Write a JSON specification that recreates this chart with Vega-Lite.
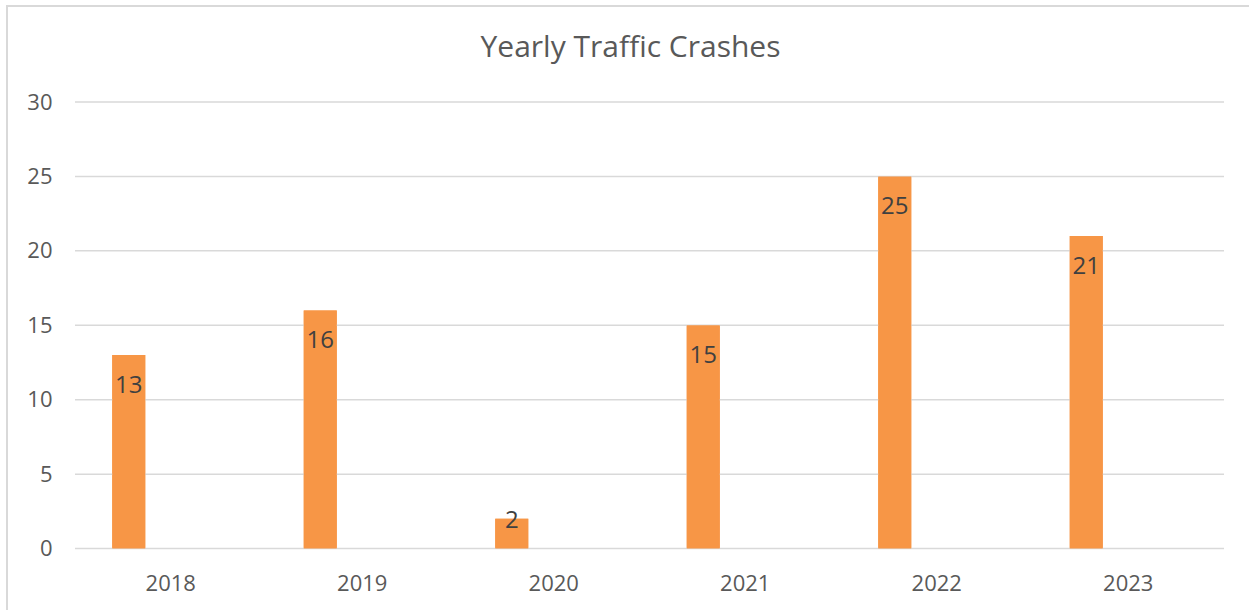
{
  "$schema": "https://vega.github.io/schema/vega-lite/v6.json",
  "autosize": "none",
  "padding": {"left": 7, "top": 6, "right": 0, "bottom": 0},
  "width": 1285,
  "height": 617,
  "background": "white",
  "config": {
    "view": {"stroke": "#D9D9D9", "strokeWidth": 2},
    "font": "Open Sans"
  },
  "title": {
    "text": "Yearly Traffic Crashes",
    "font": "Open Sans",
    "fontSize": 30,
    "fontWeight": "normal",
    "color": "#595959",
    "anchor": "middle",
    "frame": "group",
    "baseline": "alphabetic",
    "offset": -50,
    "dy": 31,
    "dx": -19
  },
  "datasets": {
    "crashes": [
      {"year": "2018", "crashes": 13},
      {"year": "2019", "crashes": 16},
      {"year": "2020", "crashes": 2},
      {"year": "2021", "crashes": 15},
      {"year": "2022", "crashes": 25},
      {"year": "2023", "crashes": 21}
    ],
    "grid": [
      {"value": 0}, {"value": 5}, {"value": 10}, {"value": 15},
      {"value": 20}, {"value": 25}, {"value": 30}
    ]
  },
  "layer": [
    {
      "data": {"name": "crashes"},
      "mark": {"type": "bar", "color": "#F79646", "width": 33, "xOffset": -42},
      "encoding": {
        "x": {
          "field": "year",
          "type": "nominal",
          "sort": null,
          "scale": {"domain": ["2018", "2019", "2020", "2021", "2022", "2023"], "paddingInner": 0, "paddingOuter": 0.3551, "align": 0.5},
          "axis": {
            "title": null,
            "domain": false,
            "ticks": false,
            "offset": -74.4,
            "labelPadding": 25,
            "labelAngle": 0,
            "labelAlign": "center",
            "bandPosition": 0.5,
            "labelFont": "Open Sans",
            "labelFontSize": 22,
            "labelColor": "#595959"
          }
        },
        "y": {
          "field": "crashes",
          "type": "quantitative",
          "scale": {"domain": [-5, 36.45], "nice": false, "zero": false},
          "axis": {
            "title": null,
            "values": [0, 5, 10, 15, 20, 25, 30],
            "grid": false,
            "domain": false,
            "ticks": false,
            "labelPadding": -45,
            "labelFont": "Open Sans",
            "labelFontSize": 22,
            "labelColor": "#595959"
          }
        },
        "y2": {"datum": 0}
      }
    },
    {
      "data": {"name": "grid"},
      "mark": {"type": "rule", "color": "#D9D9D9", "strokeWidth": 1.5},
      "encoding": {
        "y": {"field": "value", "type": "quantitative"},
        "x": {"datum": "2018", "bandPosition": 0},
        "x2": {"datum": "2023", "bandPosition": 1}
      }
    },
    {
      "data": {"name": "crashes"},
      "mark": {"type": "bar", "color": "#F79646", "width": 33, "xOffset": -42},
      "encoding": {
        "x": {"field": "year", "type": "nominal"},
        "y": {"field": "crashes", "type": "quantitative"},
        "y2": {"datum": 0}
      }
    },
    {
      "data": {"name": "crashes"},
      "transform": [{"filter": "datum.crashes >= 5"}],
      "mark": {"type": "text", "font": "Open Sans", "fontSize": 24, "color": "#404040", "baseline": "middle", "dy": 31, "xOffset": -42},
      "encoding": {
        "x": {"field": "year", "type": "nominal"},
        "y": {"field": "crashes", "type": "quantitative"},
        "text": {"field": "crashes", "type": "quantitative"}
      }
    },
    {
      "data": {"name": "crashes"},
      "transform": [{"filter": "datum.crashes < 5"}],
      "mark": {"type": "text", "font": "Open Sans", "fontSize": 24, "color": "#404040", "baseline": "middle", "dy": 2, "xOffset": -42},
      "encoding": {
        "x": {"field": "year", "type": "nominal"},
        "y": {"field": "crashes", "type": "quantitative"},
        "text": {"field": "crashes", "type": "quantitative"}
      }
    }
  ]
}
